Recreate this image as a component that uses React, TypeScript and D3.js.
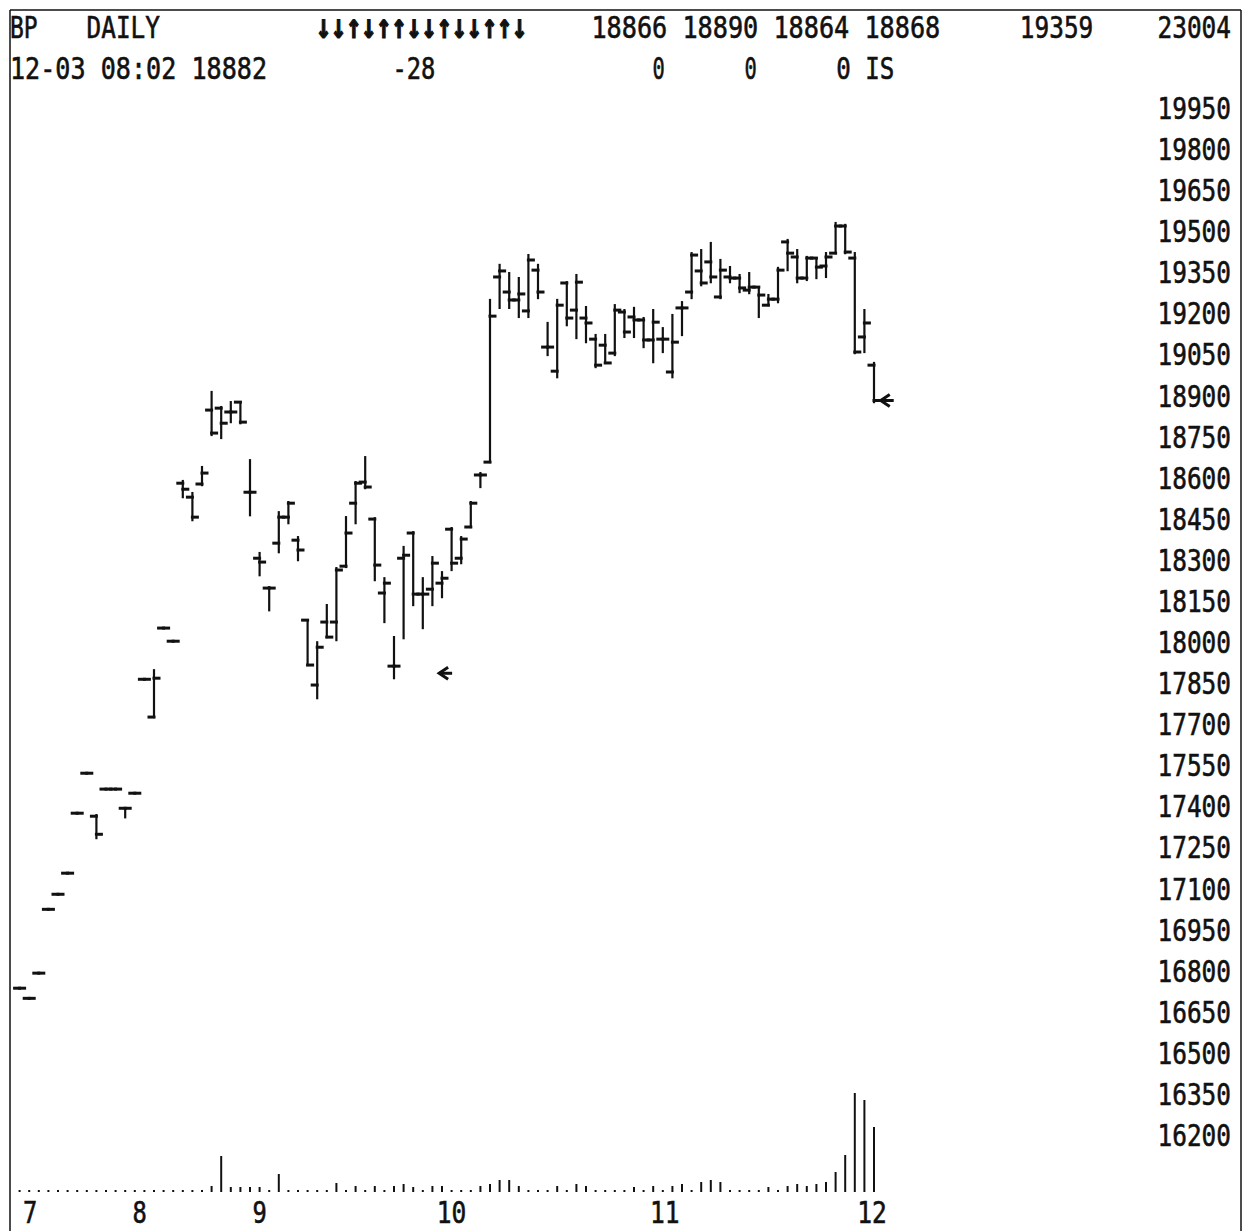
import React from 'react';
import * as d3 from 'd3';

// ---- price data (one bar per trading day) ----
const opens = [
  16736, 16699, 16791, 17024, 17079, 17156, 17375, 17521, 17364, 17463,
  17463, 17393, 17448, 17864, 17726, 18051, 18003, 18580, 18529, 18577,
  18847, 18854, 18840, 18876, 18547, 18306, 18197, 18361, 18456, 18372,
  18080, 17843, 18073, 18073, 18277, 18507, 18584, 18449, 18179, 17912,
  18306, 18398, 18175, 18193, 18215, 18412, 18306, 18420, 18610, 18657,
  19333, 19278, 19249, 19209, 19358, 19077, 18989, 19311, 19212, 19183,
  19106, 19084, 19055, 19205, 19187, 19176, 19103, 19106, 18986, 19220,
  19278, 19355, 19388, 19260, 19333, 19329, 19285, 19296, 19230, 19252,
  19461, 19406, 19329, 19402, 19373, 19420, 19519, 19402, 19114, 19011,
];
const highs = [
  16736, 16699, 16791, 17024, 17079, 17156, 17375, 17521, 17368, 17463,
  17463, 17393, 17448, 17864, 17897, 18051, 18003, 18588, 18544, 18639,
  18913, 18858, 18876, 18876, 18664, 18325, 18200, 18474, 18511, 18383,
  18080, 17999, 18135, 18270, 18456, 18584, 18675, 18452, 18233, 18018,
  18347, 18401, 18233, 18310, 18255, 18416, 18383, 18511, 18617, 19249,
  19377, 19347, 19329, 19413, 19377, 19165, 19249, 19314, 19340, 19223,
  19121, 19121, 19230, 19212, 19220, 19183, 19212, 19146, 19194, 19241,
  19420, 19431, 19457, 19395, 19369, 19340, 19347, 19296, 19267, 19366,
  19468, 19431, 19406, 19402, 19420, 19530, 19523, 19420, 19212, 19019,
];
const lows = [
  16736, 16699, 16791, 17024, 17079, 17156, 17375, 17521, 17284, 17463,
  17463, 17360, 17448, 17864, 17726, 18051, 18003, 18529, 18445, 18573,
  18756, 18745, 18803, 18799, 18463, 18244, 18116, 18328, 18434, 18299,
  17916, 17795, 18018, 18007, 18274, 18434, 18562, 18226, 18073, 17868,
  18014, 18135, 18051, 18135, 18164, 18263, 18288, 18420, 18566, 18657,
  19220, 19220, 19187, 19187, 19256, 19048, 18967, 19157, 19110, 19095,
  19004, 19019, 19048, 19114, 19114, 19077, 19022, 19059, 18967, 19121,
  19256, 19303, 19314, 19256, 19314, 19278, 19274, 19187, 19230, 19241,
  19358, 19314, 19322, 19329, 19333, 19420, 19420, 19055, 19059, 18876,
];
const closes = [
  16736, 16699, 16791, 17024, 17079, 17156, 17375, 17521, 17298, 17463,
  17463, 17393, 17448, 17864, 17868, 18051, 18003, 18558, 18456, 18617,
  18763, 18799, 18840, 18803, 18547, 18292, 18197, 18456, 18507, 18336,
  17916, 17981, 18018, 18263, 18398, 18580, 18566, 18281, 18215, 17912,
  18317, 18175, 18175, 18288, 18233, 18288, 18376, 18507, 18610, 19190,
  19355, 19249, 19271, 19395, 19278, 19077, 19230, 19183, 19314, 19165,
  19011, 19019, 19212, 19132, 19176, 19103, 19168, 19106, 19095, 19220,
  19413, 19311, 19333, 19358, 19329, 19293, 19296, 19267, 19252, 19358,
  19420, 19329, 19402, 19369, 19406, 19519, 19424, 19059, 19165, 18882,
];
const volumes = [
  1, 1, 1, 1, 1, 1, 1, 1, 1, 1,
  1, 1, 1, 1, 1, 1, 1, 1, 1, 1,
  6, 36, 5, 5, 5, 5, 1, 18, 1, 1,
  1, 1, 1, 9, 1, 6, 1, 6, 1, 6,
  8, 5, 1, 6, 6, 1, 1, 1, 6, 8,
  12, 12, 6, 1, 1, 1, 6, 1, 8, 6,
  1, 1, 1, 1, 5, 1, 6, 1, 6, 8,
  1, 10, 12, 10, 1, 1, 1, 1, 5, 1,
  6, 8, 6, 8, 10, 20, 37, 99, 92, 65,
];

// markers ("<") : bar position and price
const markerPos = [43.7, 89.7];
const markerVal = [17886, 18882];

// axes
const priceTicks = [
  19950, 19800, 19650, 19500, 19350, 19200, 19050, 18900, 18750, 18600,
  18450, 18300, 18150, 18000, 17850, 17700, 17550, 17400, 17250, 17100,
  16950, 16800, 16650, 16500, 16350, 16200,
];
const monthLabels = ['7', '8', '9', '10', '11', '12'];
const monthPos = [1.1, 12.5, 25, 45, 67.2, 88.8];

// header (80-column printout grid)
const headerRow1 = [
  { text: 'BP', col: 0 },
  { text: 'DAILY', col: 5 },
  { text: '↓↓↑↓↑↑↓↓↑↓↓↑↑↓', col: 20 },
  { text: '18866 18890 18864 18868', col: 38 },
  { text: '19359', col: 66 },
  { text: '23004', col: 75 },
];
const headerRow2 = [
  { text: '12-03 08:02 18882', col: 0 },
  { text: '-28', col: 25 },
  { text: '0', col: 42 },
  { text: '0', col: 48 },
  { text: '0 IS', col: 54 },
];

const W = 1250;
const H = 1231;
const FONT = "'DejaVu Sans Mono', 'Liberation Mono', monospace";
const INK = '#111';

export default function App() {
  const x = d3.scaleLinear().domain([0, 89]).range([19.6, 874]);
  const y = d3.scaleLinear().domain([19950, 16200]).range([108, 1135]);
  const yV = d3.scaleLinear().domain([0, 100]).range([1192, 1092]);

  const x0 = 10;
  const cw = 15.3;
  const frameR = 1241;
  const tick = 5;

  const isArrows = (t: string) => /[↑↓]/.test(t);

  const txt = (t: string, col: number, baseline: number, key: string) => (
    <text
      key={key}
      x={x0 + col * cw}
      y={baseline}
      textLength={t.length * cw - 3}
      lengthAdjust="spacingAndGlyphs"
      fontFamily={FONT}
      fontSize={isArrows(t) ? 34 : 30}
      fontWeight={isArrows(t) ? 'bold' : 'normal'}
      fill={INK}
      stroke={INK}
      strokeWidth={isArrows(t) ? 1.2 : 0.6}
    >
      {t}
    </text>
  );

  return (
    <svg
      width={W}
      height={H}
      viewBox={`0 0 ${W} ${H}`}
      style={{ position: 'absolute', left: 0, top: 0, background: '#fff' }}
    >
      <rect x={0} y={0} width={W} height={H} fill="#fff" />
      {/* frame */}
      <line x1={x0} x2={frameR} y1={10} y2={10} stroke={INK} strokeWidth={1.5} />
      <line x1={x0} x2={x0} y1={10} y2={H} stroke={INK} strokeWidth={1.5} />
      <line x1={frameR} x2={frameR} y1={10} y2={H} stroke={INK} strokeWidth={1.5} />

      {/* header */}
      {headerRow1.map((h, i) => txt(h.text, h.col, 38, 'h1' + i))}
      {headerRow2.map((h, i) => txt(h.text, h.col, 79, 'h2' + i))}

      {/* price axis labels */}
      {priceTicks.map((v, i) => txt(String(v), 75, y(v) + 11, 'p' + i))}

      {/* month labels */}
      {monthLabels.map((m, i) => (
        <text
          key={'m' + i}
          x={x(monthPos[i])}
          y={1223}
          textAnchor="middle"
          textLength={m.length * cw - 1}
          lengthAdjust="spacingAndGlyphs"
          fontFamily={FONT}
          fontSize={30}
          fill={INK}
          stroke={INK}
          strokeWidth={0.6}
        >
          {m}
        </text>
      ))}

      {/* OHLC bars */}
      {opens.map((o, i) => {
        const cx = x(i);
        return (
          <g key={'b' + i} stroke={INK} strokeLinecap="square">
            {highs[i] !== lows[i] && (
              <line x1={cx} x2={cx} y1={y(highs[i])} y2={y(lows[i])} strokeWidth={2.2} />
            )}
            <line x1={cx - tick} x2={cx} y1={y(o)} y2={y(o)} strokeWidth={3} />
            <line x1={cx} x2={cx + tick} y1={y(closes[i])} y2={y(closes[i])} strokeWidth={3} />
          </g>
        );
      })}

      {/* markers */}
      {markerPos.map((p, i) => {
        const tx = x(p);
        const ty = y(markerVal[i]);
        return (
          <g key={'mk' + i} stroke={INK} strokeWidth={3} fill="none" strokeLinejoin="miter">
            <path d={`M${tx + 9},${ty - 6} L${tx},${ty} L${tx + 9},${ty + 6}`} />
            <line x1={tx} x2={tx + 13} y1={ty} y2={ty} />
            {i === markerPos.length - 1 && (
              <line x1={x(89)} x2={tx} y1={ty} y2={ty} />
            )}
          </g>
        );
      })}

      {/* volume */}
      {volumes.map((v, i) => {
        const cx = x(i);
        return v > 1 ? (
          <line key={'v' + i} x1={cx} x2={cx} y1={yV(0)} y2={yV(v)} stroke={INK} strokeWidth={2} />
        ) : (
          <rect key={'v' + i} x={cx - 1} y={yV(0) - 2} width={2} height={2} fill={INK} />
        );
      })}
    </svg>
  );
}
